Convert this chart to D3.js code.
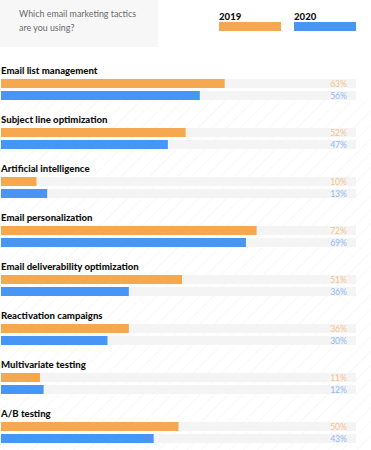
<!DOCTYPE html>
<html><head><meta charset="utf-8">
<script src="https://cdn.jsdelivr.net/npm/d3@7"></script>
<style>
html,body{margin:0;padding:0;background:#fff;}
svg{display:block;}
</style></head>
<body>
<svg id="c" width="371" height="450"></svg>
<script>
const categories = ["Email list management","Subject line optimization","Artificial intelligence","Email personalization","Email deliverability optimization","Reactivation campaigns","Multivariate testing","A/B testing"];
const values2019 = [63,52,10,72,51,36,11,50];
const values2020 = [56,47,13,69,36,30,12,43];
const seriesNames = ["2019","2020"];
const questionLines = ["Which email marketing tactics","are you using?"];

const colors = {"2019":"#f5a84f","2020":"#4796f5"};
const textColors = {"2019":"#f6c38b","2020":"#8fb9f6"};
const font = "Lato, 'Open Sans', sans-serif";

const svg = d3.select("#c");

// background hatch
const defs = svg.append("defs");
const pat = defs.append("pattern").attr("id","hatch").attr("patternUnits","userSpaceOnUse")
  .attr("width",10).attr("height",10).attr("patternTransform","rotate(45)");
pat.append("line").attr("x1",0).attr("y1",0).attr("x2",0).attr("y2",10)
  .attr("stroke","#f8f8f8").attr("stroke-width",2);
svg.append("rect").attr("x",0).attr("y",0).attr("width",371).attr("height",450).attr("fill","#fff");
svg.append("rect").attr("x",0).attr("y",100).attr("width",371).attr("height",350).attr("fill","url(#hatch)");

// header box
svg.append("rect").attr("x",0).attr("y",0).attr("width",158).attr("height",47).attr("fill","#f7f7f7");
svg.selectAll("text.q").data(questionLines).join("text").attr("class","q")
  .attr("x",19).attr("y",(d,i)=>17+i*14)
  .attr("font-family",font).attr("font-size",8.9).attr("fill","#6a6a6a").text(d=>d);

// legend
const legX = d3.scaleOrdinal().domain(seriesNames).range([219,294]);
const leg = svg.selectAll("g.leg").data(seriesNames).join("g").attr("class","leg")
  .attr("transform",d=>`translate(${legX(d)},0)`);
leg.append("text").attr("x",0).attr("y",19.5).attr("font-family",font).attr("font-weight",900)
  .attr("font-size",9.6).attr("fill","#111").text(d=>d);
leg.append("rect").attr("x",0).attr("y",22).attr("width",62).attr("height",9).attr("fill",d=>colors[d]);

// chart
const x = d3.scaleLinear().domain([0,100]).range([1,356]);
const yGroup = d3.scaleBand().domain(categories).range([79,79+49*8]).paddingInner(0).paddingOuter(0);
const ySeries = d3.scaleOrdinal().domain(seriesNames).range([0,12]);

const data = categories.map((c,i)=>({cat:c, vals:[{s:"2019",v:values2019[i]},{s:"2020",v:values2020[i]}]}));

const g = svg.selectAll("g.grp").data(data).join("g").attr("class","grp")
  .attr("transform",d=>`translate(0,${yGroup(d.cat)})`);
g.append("text").attr("x",1).attr("y",-5).attr("font-family",font).attr("font-weight",900)
  .attr("font-size",9.6).attr("fill","#111").text(d=>d.cat);
const row = g.selectAll("g.row").data(d=>d.vals).join("g").attr("class","row")
  .attr("transform",d=>`translate(0,${ySeries(d.s)})`);
row.append("rect").attr("x",x(0)).attr("y",0).attr("width",x(100)-x(0)).attr("height",9).attr("fill","#f4f4f4");
row.append("rect").attr("x",x(0)).attr("y",0).attr("width",d=>x(d.v)-x(0)).attr("height",9).attr("fill",d=>colors[d.s]);
row.append("text").attr("x",347).attr("y",8).attr("text-anchor","end").attr("font-family",font)
  .attr("font-size",8.6).attr("fill",d=>textColors[d.s]).text(d=>d.v+"%");
</script>
</body></html>
